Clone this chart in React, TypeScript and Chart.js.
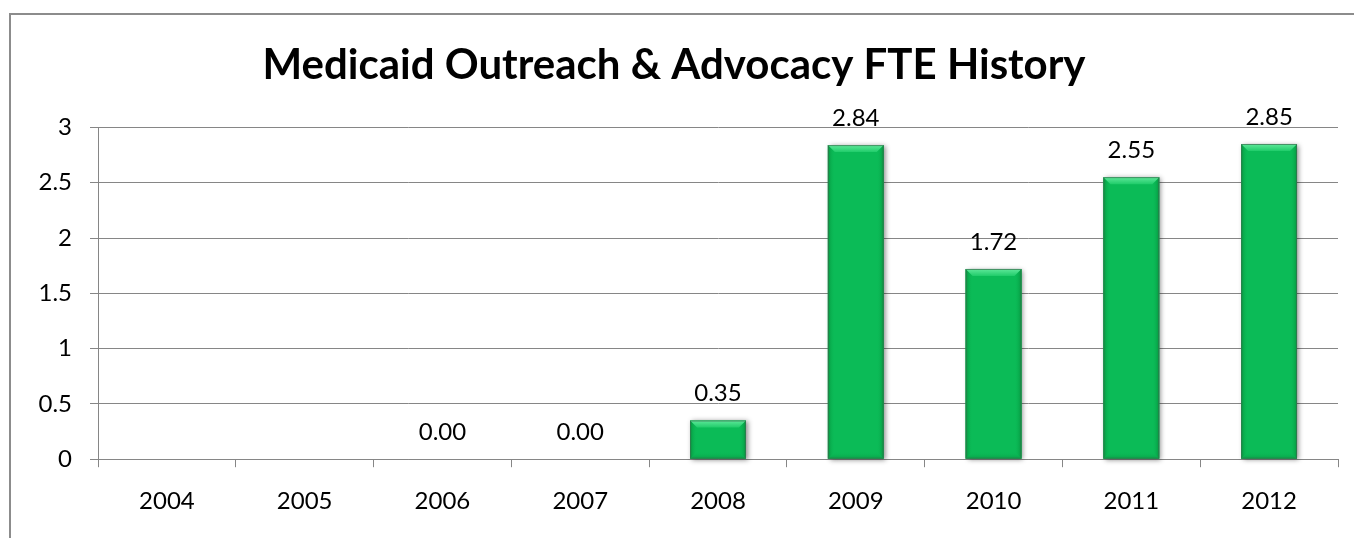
import { useEffect, useRef } from 'react';
import { Chart, registerables } from 'chart.js';

Chart.register(...registerables);

const categories = ['2004', '2005', '2006', '2007', '2008', '2009', '2010', '2011', '2012'];
const fteValues: (number | null)[] = [null, null, 0, 0, 0.35, 2.84, 1.72, 2.55, 2.85];
const yMin = 0;
const yMax = 3;
const yStep = 0.5;
const chartTitle = 'Medicaid Outreach & Advocacy FTE History';

const FONT = 'Lato, "Open Sans", sans-serif';
const BAR_COLOR = '#0bbb57';
const GRID = '#868686';
const LABEL_SIZE = 24;

const framePlugin = {
  id: 'frame',
  beforeDraw(chart: any) {
    const ctx = chart.ctx;
    ctx.save();
    ctx.fillStyle = '#ffffff';
    ctx.fillRect(0, 0, chart.width, chart.height);
    ctx.fillStyle = '#8c8c8c';
    ctx.fillRect(9, 13, chart.width - 9, 2);
    ctx.fillRect(9, 13, 2, chart.height - 13);
    ctx.restore();
  },
};

function barBox(bar: any) {
  const p = bar.getProps(['x', 'y', 'base', 'width'], true);
  return { L: p.x - p.width / 2, R: p.x + p.width / 2, T: Math.min(p.y, p.base), B: Math.max(p.y, p.base), x: p.x };
}

const bevelPlugin = {
  id: 'bevel',
  beforeDatasetsDraw(chart: any) {
    const ctx = chart.ctx;
    const meta = chart.getDatasetMeta(0);
    ctx.save();
    meta.data.forEach((bar: any, i: number) => {
      if (fteValues[i] == null) return;
      const { L, R, T, B } = barBox(bar);
      if (B - T < 2) return;
      ctx.shadowColor = 'rgba(0,0,0,0.45)';
      ctx.shadowBlur = 5;
      ctx.shadowOffsetX = 2;
      ctx.shadowOffsetY = 1;
      ctx.fillStyle = BAR_COLOR;
      ctx.fillRect(L, T, R - L, B - T);
    });
    ctx.restore();
  },
  afterDatasetsDraw(chart: any) {
    const ctx = chart.ctx;
    const meta = chart.getDatasetMeta(0);
    ctx.save();
    meta.data.forEach((bar: any, i: number) => {
      const v = fteValues[i];
      if (v == null) return;
      const { L, R, T, B, x } = barBox(bar);
      const h = B - T;
      if (h > 2) {
        const b = Math.min(7, h / 2);
        let g = ctx.createLinearGradient(L, 0, L + b, 0);
        g.addColorStop(0, '#06963f');
        g.addColorStop(1, 'rgba(11,187,87,0)');
        ctx.fillStyle = g;
        ctx.beginPath();
        ctx.moveTo(L, T); ctx.lineTo(L + b, T + b); ctx.lineTo(L + b, B - b); ctx.lineTo(L, B); ctx.closePath();
        ctx.fill();
        g = ctx.createLinearGradient(R, 0, R - b, 0);
        g.addColorStop(0, '#06963f');
        g.addColorStop(1, 'rgba(11,187,87,0)');
        ctx.fillStyle = g;
        ctx.beginPath();
        ctx.moveTo(R, T); ctx.lineTo(R - b, T + b); ctx.lineTo(R - b, B - b); ctx.lineTo(R, B); ctx.closePath();
        ctx.fill();
        g = ctx.createLinearGradient(0, B, 0, B - b);
        g.addColorStop(0, '#07a046');
        g.addColorStop(1, 'rgba(11,187,87,0)');
        ctx.fillStyle = g;
        ctx.beginPath();
        ctx.moveTo(L, B); ctx.lineTo(L + b, B - b); ctx.lineTo(R - b, B - b); ctx.lineTo(R, B); ctx.closePath();
        ctx.fill();
        g = ctx.createLinearGradient(0, T, 0, T + b);
        g.addColorStop(0, '#5fe89a');
        g.addColorStop(1, '#20cc6a');
        ctx.fillStyle = g;
        ctx.beginPath();
        ctx.moveTo(L, T); ctx.lineTo(R, T); ctx.lineTo(R - b, T + b); ctx.lineTo(L + b, T + b); ctx.closePath();
        ctx.fill();
        ctx.strokeStyle = 'rgba(60,110,80,0.7)';
        ctx.lineWidth = 1;
        ctx.strokeRect(L + 0.5, T + 0.5, R - L - 1, h - 1);
      }
      ctx.fillStyle = '#000000';
      ctx.font = `${LABEL_SIZE}px ${FONT}`;
      ctx.textAlign = 'center';
      ctx.textBaseline = 'alphabetic';
      ctx.fillText(v.toFixed(2), x, T - 19);
    });
    ctx.restore();
  },
};

export default function App() {
  const ref = useRef<HTMLCanvasElement | null>(null);

  useEffect(() => {
    if (!ref.current) return;
    const chart = new Chart(ref.current, {
      type: 'bar',
      data: {
        labels: categories,
        datasets: [
          {
            label: 'FTE',
            data: fteValues,
            backgroundColor: BAR_COLOR,
            borderWidth: 0,
            barPercentage: 0.405,
            categoryPercentage: 1,
          },
        ],
      },
      options: {
        animation: false,
        responsive: true,
        maintainAspectRatio: false,
        layout: { padding: { left: 10, right: 16, top: 0, bottom: 2 } },
        plugins: {
          legend: { display: false },
          tooltip: { enabled: false },
          title: {
            display: true,
            text: chartTitle,
            color: '#000000',
            font: { family: FONT, size: 42, weight: 'bold' },
            padding: { top: 40, bottom: 37 },
          },
        },
        scales: {
          x: {
            grid: { display: true, offset: true, drawOnChartArea: false, drawTicks: true, tickLength: 8, color: GRID, lineWidth: 1 },
            border: { display: true, color: GRID, width: 1 },
            ticks: { color: '#000000', font: { family: FONT, size: LABEL_SIZE }, padding: 20 },
          },
          y: {
            min: yMin,
            max: yMax,
            afterFit(scale: any) { scale.width = 88; },
            grid: { display: true, drawTicks: true, tickLength: 8, color: GRID, lineWidth: 1 },
            border: { display: true, color: GRID, width: 1 },
            ticks: {
              stepSize: yStep,
              color: '#000000',
              font: { family: FONT, size: LABEL_SIZE },
              padding: 18,
              callback: (v: any) => `${Number(v)}`,
            },
          },
        },
      },
      plugins: [framePlugin, bevelPlugin],
    });
    return () => chart.destroy();
  }, []);

  return (
    <div style={{ position: 'fixed', left: 0, top: 0, width: 1354, height: 538 }}>
      <canvas ref={ref} />
    </div>
  );
}
